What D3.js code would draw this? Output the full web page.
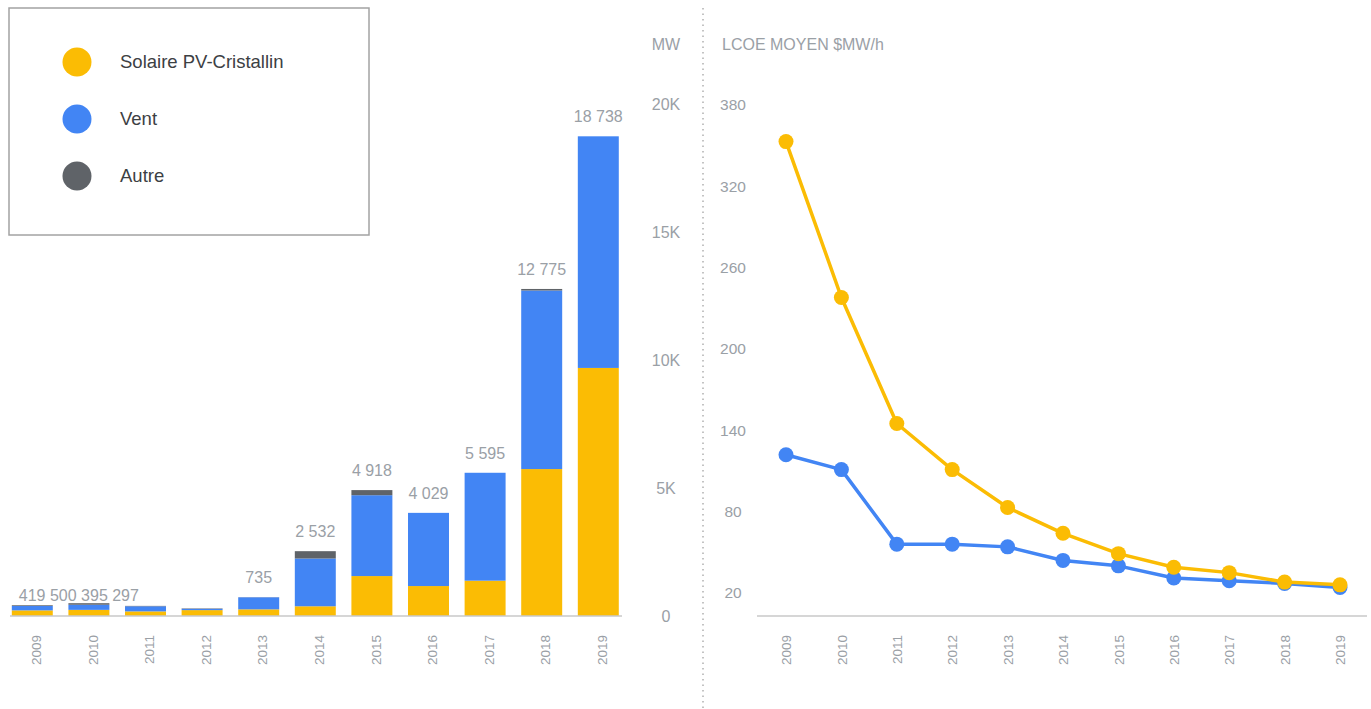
<!DOCTYPE html>
<html>
<head>
<meta charset="utf-8">
<script src="https://cdn.jsdelivr.net/npm/d3@7"></script>
<style>
  body { margin: 0; background: #fff; }
  svg { font-family: "Liberation Sans", Arial, sans-serif; }
  .lbl { fill: #9aa0a6; }
</style>
</head>
<body>
<div id="chart"></div>
<script>
// data
const years = ["2009", "2010", "2011", "2012", "2013", "2014", "2015", "2016", "2017", "2018", "2019"];
const solaire = [220, 240, 180, 230, 260, 380, 1560, 1170, 1380, 5740, 9690];
const vent = [170, 200, 200, 50, 470, 1865, 3158, 2859, 4215, 6975, 9048];
const autre = [29, 60, 15, 17, 5, 287, 200, 0, 0, 60, 0];
const mwTicks = [0, 5000, 10000, 15000, 20000];

const lcoeSolaire = [353, 238, 145, 111, 83, 64, 49, 39, 35, 28, 26];
const lcoeVent = [122, 111, 56, 56, 54, 44, 40, 31, 29, 27, 24];
const lcoeTicks = [20, 80, 140, 200, 260, 320, 380];

const series = [
  { name: "Solaire PV-Cristallin", key: "solaire", color: "#fbbc04" },
  { name: "Vent", key: "vent", color: "#4285f4" },
  { name: "Autre", key: "autre", color: "#5f6368" }
];

const W = 1371, H = 709;
const svg = d3.select("#chart").append("svg")
  .attr("width", W).attr("height", H);

const fmt = d3.formatLocale({ decimal: ",", thousands: " ", grouping: [3] }).format(",d");

// ---------- bar chart ----------
const rows = years.map((y, i) => ({ year: y, solaire: solaire[i], vent: vent[i], autre: autre[i] }));
const stacked = d3.stack().keys(series.map(s => s.key))(rows);
const totals = rows.map(r => r.solaire + r.vent + r.autre);

const xscale = d3.scaleBand()
  .domain(years)
  .range([4, 626.6])
  .paddingInner(0.276)
  .paddingOuter(0.138);

const yscale = d3.scaleLinear()
  .domain([0, 20000])
  .range([616, 104]);

const bars = svg.append("g").attr("class", "bars");
bars.selectAll("g")
  .data(stacked)
  .enter().append("g")
    .attr("fill", (d, i) => series[i].color)
  .selectAll("rect")
  .data(d => d)
  .enter().append("rect")
    .attr("x", d => xscale(d.data.year))
    .attr("y", d => yscale(d[1]))
    .attr("height", d => yscale(d[0]) - yscale(d[1]))
    .attr("width", xscale.bandwidth());

// baseline
svg.append("line")
  .attr("x1", 10).attr("x2", 622)
  .attr("y1", yscale(0)).attr("y2", yscale(0))
  .attr("stroke", "#c8c8c8").attr("stroke-width", 1.5);

// total labels: the tiny bars share one packed row
const small = totals.map((t, i) => i).filter(i => yscale(0) - yscale(totals[i]) < 15);
const big = totals.map((t, i) => i).filter(i => !small.includes(i));

svg.append("g").selectAll("text")
  .data(big)
  .enter().append("text")
    .attr("class", "lbl")
    .attr("x", i => xscale(years[i]) + xscale.bandwidth() / 2)
    .attr("y", i => yscale(totals[i]) - 14)
    .attr("text-anchor", "middle")
    .style("font-size", "16px")
    .text(i => fmt(totals[i]));

svg.append("text")
  .attr("class", "lbl")
  .attr("x", xscale(years[small[0]]) + 7)
  .attr("y", yscale(d3.max(small, i => totals[i])) - 2)
  .style("font-size", "16px")
  .text(small.map(i => fmt(totals[i])).join(" "));

// x axis (years, rotated)
const xAxis = svg.append("g")
  .attr("transform", `translate(0,${yscale(0)})`)
  .call(d3.axisBottom(xscale).tickSize(0).tickPadding(0));
xAxis.select(".domain").remove();
xAxis.selectAll("text")
  .attr("class", "lbl")
  .attr("transform", "rotate(-90)")
  .attr("x", -19).attr("y", 4).attr("dy", "0.35em")
  .attr("text-anchor", "end")
  .style("font-size", "13.5px")
  .style("font-family", "'Liberation Sans', Arial, sans-serif");

// y axis MW on the right
const yAxis = svg.append("g")
  .attr("transform", "translate(666,0)")
  .call(d3.axisRight(yscale).tickValues(mwTicks).tickSize(0).tickPadding(0)
    .tickFormat(d => d === 0 ? "0" : (d / 1000) + "K"));
yAxis.select(".domain").remove();
yAxis.selectAll("text")
  .attr("class", "lbl")
  .attr("text-anchor", "middle")
  .style("font-size", "16px")
  .style("font-family", "'Liberation Sans', Arial, sans-serif");

svg.append("text")
  .attr("class", "lbl")
  .attr("x", 666).attr("y", 50)
  .attr("text-anchor", "middle")
  .style("font-size", "16px")
  .text("MW");

// legend
const legend = svg.append("g").attr("class", "legend");
legend.append("rect")
  .attr("x", 9).attr("y", 8)
  .attr("width", 360).attr("height", 227)
  .attr("fill", "#fff")
  .attr("stroke", "#a3a3a3").attr("stroke-width", 1.5);
legend.selectAll("circle")
  .data(series)
  .enter().append("circle")
    .attr("cx", 77)
    .attr("cy", (d, i) => 62 + i * 57)
    .attr("r", 14.5)
    .attr("fill", d => d.color);
legend.selectAll("text")
  .data(series)
  .enter().append("text")
    .attr("x", 120)
    .attr("y", (d, i) => 62 + i * 57)
    .attr("dy", "0.35em")
    .attr("fill", "#3c4043")
    .style("font-size", "18.5px")
    .text(d => d.name);

// separator
svg.append("line")
  .attr("x1", 703).attr("x2", 703)
  .attr("y1", 8).attr("y2", H)
  .attr("stroke", "#b0b0b0").attr("stroke-width", 1.5)
  .style("stroke-dasharray", ("1.5, 4"));

// ---------- line chart ----------
const xl = d3.scalePoint()
  .domain(years)
  .range([786, 1340]);

const yl = d3.scaleLinear()
  .domain([3, 380])
  .range([616, 105]);

svg.append("line")
  .attr("x1", 757).attr("x2", 1367)
  .attr("y1", 616).attr("y2", 616)
  .attr("stroke", "#c8c8c8").attr("stroke-width", 1.5);

const ylAxis = svg.append("g")
  .attr("transform", "translate(733,0)")
  .call(d3.axisLeft(yl).tickValues(lcoeTicks).tickSize(0).tickPadding(0));
ylAxis.select(".domain").remove();
ylAxis.selectAll("text")
  .attr("class", "lbl")
  .attr("text-anchor", "middle")
  .style("font-size", "15.5px")
  .style("font-family", "'Liberation Sans', Arial, sans-serif");

svg.append("text")
  .attr("class", "lbl")
  .attr("x", 722).attr("y", 50)
  .style("font-size", "16px")
  .text("LCOE MOYEN $MW/h");

const xlAxis = svg.append("g")
  .attr("transform", "translate(0,616)")
  .call(d3.axisBottom(xl).tickSize(0).tickPadding(0));
xlAxis.select(".domain").remove();
xlAxis.selectAll("text")
  .attr("class", "lbl")
  .attr("transform", "rotate(-90)")
  .attr("x", -19).attr("y", 0).attr("dy", "0.35em")
  .attr("text-anchor", "end")
  .style("font-size", "13.5px")
  .style("font-family", "'Liberation Sans', Arial, sans-serif");

const linea = d3.line()
  .x((d, i) => xl(years[i]))
  .y(d => yl(d))
  .curve(d3.curveLinear);

const lineSeries = [
  { values: lcoeVent, color: "#4285f4" },
  { values: lcoeSolaire, color: "#fbbc04" }
];

lineSeries.forEach(s => {
  const g = svg.append("g");
  g.append("path")
    .datum(s.values)
    .attr("fill", "none")
    .attr("stroke", s.color)
    .attr("stroke-width", 3.5)
    .attr("stroke-linejoin", "round")
    .attr("d", linea);
  g.selectAll("circle")
    .data(s.values)
    .enter().append("circle")
      .attr("cx", (d, i) => xl(years[i]))
      .attr("cy", d => yl(d))
      .attr("r", 7.5)
      .attr("fill", s.color);
});
</script>
</body>
</html>
